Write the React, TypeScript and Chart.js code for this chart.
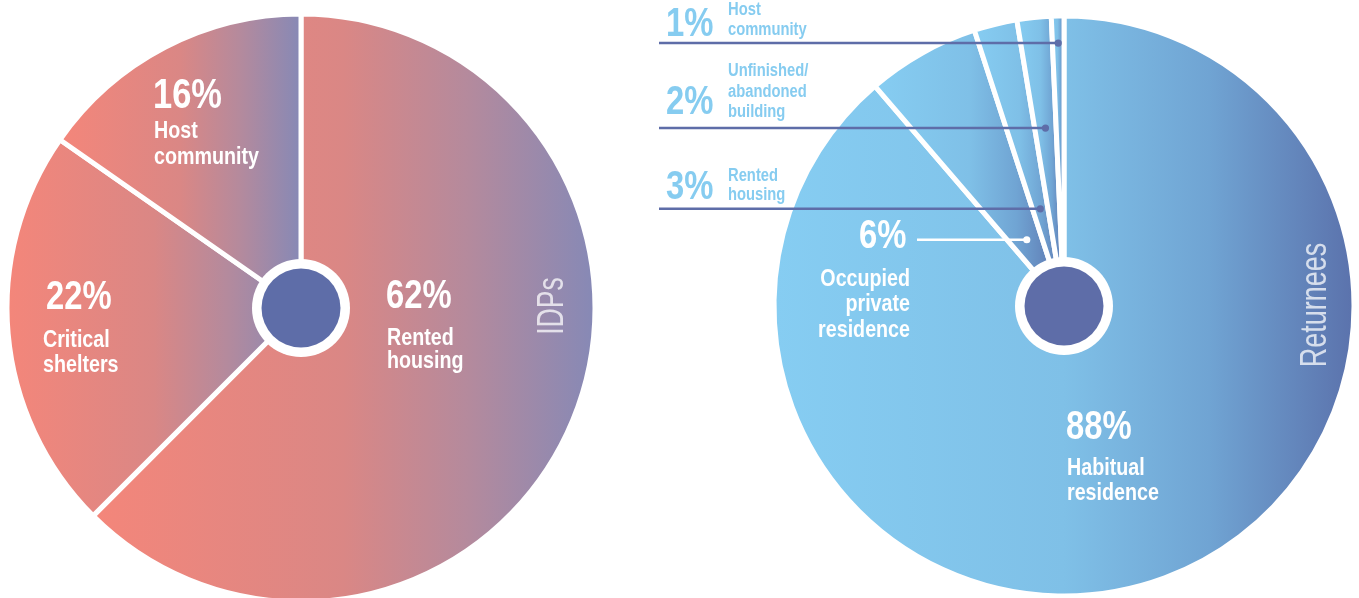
import { useEffect, useRef } from 'react';
import { Chart, registerables } from 'chart.js';

Chart.register(...registerables);

// ---------- data ----------
const idpCategories = ['Rented housing', 'Critical shelters', 'Host community'];
const idpValues = [62.5, 22.2, 15.3];
const idpPercentLabels = ['62%', '22%', '16%'];
const idpLabelLines = [['Rented', 'housing'], ['Critical', 'shelters'], ['Host', 'community']];

const returneeCategories = [
  'Habitual residence',
  'Occupied private residence',
  'Rented housing',
  'Unfinished/abandoned building',
  'Host community',
];
const returneeValues = [88.7, 6.3, 2.4, 1.9, 0.7];
const returneePercentLabels = ['88%', '6%', '3%', '2%', '1%'];
const returneeLabelLines = [
  ['Habitual', 'residence'],
  ['Occupied', 'private', 'residence'],
  ['Rented', 'housing'],
  ['Unfinished/', 'abandoned', 'building'],
  ['Host', 'community'],
];

const groupTitles = ['IDPs', 'Returnees'];

// ---------- styles ----------
const FONT = '"Liberation Sans", Arial, sans-serif';
const NARROW = 0.82;
const IDP_STOPS: [number, string][] = [
  [0, '#F4867A'],
  [0.5, '#DA8785'],
  [0.75, '#B48A9D'],
  [1, '#8689B6'],
];
const RET_STOPS: [number, string][] = [
  [0, '#86CDF2'],
  [0.5, '#7FC0E7'],
  [0.75, '#70A4D3'],
  [1, '#5B72AC'],
];
const DARK = '#5E6DA8';
const LIGHT_BLUE = '#86CCF0';

function sectorGradient(sctx: any, stops: [number, string][], R: number) {
  if (sctx.type !== 'data') return stops[0][1];
  const chart = sctx.chart;
  const area = chart.chartArea;
  if (!area) return stops[0][1];
  const cx = (area.left + area.right) / 2;
  const data = sctx.dataset.data as number[];
  const total = data.reduce((a, b) => a + b, 0);
  let before = 0;
  for (let i = 0; i < sctx.dataIndex; i++) before += data[i];
  const a0 = -Math.PI / 2 + (before / total) * 2 * Math.PI;
  const a1 = a0 + (data[sctx.dataIndex] / total) * 2 * Math.PI;
  let minX = cx;
  let maxX = cx;
  const consider = (a: number) => {
    const x = cx + R * Math.cos(a);
    minX = Math.min(minX, x);
    maxX = Math.max(maxX, x);
  };
  consider(a0);
  consider(a1);
  for (let k = -2; k <= 4; k++) {
    const a = k * Math.PI;
    if (a > a0 && a < a1) consider(a);
  }
  const g = chart.ctx.createLinearGradient(minX, 0, maxX, 0);
  stops.forEach(([p, col]) => g.addColorStop(p, col));
  return g;
}

type TextItem = {
  text: string;
  x: number;
  y: number;
  size: number;
  bold?: boolean;
  color: string;
  align?: CanvasTextAlign;
  rotate?: boolean;
  sx?: number;
};
type Leader = { index: number; rFrac: number; fromX: number; color: string };

function overlayPlugin(texts: TextItem[], leaders: Leader[], offsetX: number) {
  return {
    id: 'overlay',
    afterDatasetsDraw(chart: any) {
      const c: CanvasRenderingContext2D = chart.ctx;
      const meta = chart.getDatasetMeta(0);
      const first = meta.data[0] as any;
      const cx = first.x;
      const cy = first.y;
      const R = first.outerRadius;
      c.save();
      leaders.forEach((l) => {
        const arc = meta.data[l.index] as any;
        const mid = (arc.startAngle + arc.endAngle) / 2;
        const x = cx + R * l.rFrac * Math.cos(mid);
        const y = cy + R * l.rFrac * Math.sin(mid);
        c.strokeStyle = l.color;
        c.fillStyle = l.color;
        c.lineWidth = 2.5;
        c.beginPath();
        c.moveTo(l.fromX - offsetX, y);
        c.lineTo(x, y);
        c.stroke();
        c.beginPath();
        c.arc(x, y, 3.6, 0, Math.PI * 2);
        c.fill();
      });
      c.fillStyle = '#ffffff';
      c.beginPath();
      c.arc(cx, cy, 49, 0, Math.PI * 2);
      c.fill();
      c.fillStyle = DARK;
      c.beginPath();
      c.arc(cx, cy, 39.5, 0, Math.PI * 2);
      c.fill();
      texts.forEach((t) => {
        c.save();
        c.font = `${t.bold ? 'bold ' : ''}${t.size}px ${FONT}`;
        c.fillStyle = t.color;
        c.translate(t.x - offsetX, t.y);
        if (t.rotate) {
          c.rotate(-Math.PI / 2);
          c.scale(t.sx ?? NARROW, 1);
          c.textAlign = 'center';
          c.textBaseline = 'middle';
        } else {
          c.scale(t.sx ?? NARROW, 1);
          c.textAlign = t.align || 'left';
          c.textBaseline = 'alphabetic';
        }
        c.fillText(t.text, 0, 0);
        c.restore();
      });
      c.restore();
    },
  };
}

function linesAt(
  lines: string[],
  x: number,
  y0: number,
  step: number[],
  size: number,
  color: string,
  align: CanvasTextAlign = 'left'
): TextItem[] {
  return lines.map((s, i) => ({ text: s, x, y: y0 + (step[i] || 0), size, bold: true, color, align }));
}

const W = '#ffffff';
const TITLE = 'rgba(255,255,255,0.74)';

const idpTexts: TextItem[] = [
  { text: idpPercentLabels[2], x: 153, y: 108, size: 42, bold: true, color: W },
  ...linesAt(idpLabelLines[2], 154, 138, [0, 26], 24, W),
  { text: idpPercentLabels[1], x: 46, y: 309, size: 40, bold: true, color: W },
  ...linesAt(idpLabelLines[1], 43, 347, [0, 25], 24, W),
  { text: idpPercentLabels[0], x: 386, y: 308, size: 40, bold: true, color: W },
  ...linesAt(idpLabelLines[0], 387, 345, [0, 23], 24, W),
  { text: groupTitles[0], x: 553, y: 306, size: 36, color: TITLE, rotate: true, sx: 0.74 },
];

const retTexts: TextItem[] = [
  { text: returneePercentLabels[4], x: 666, y: 36, size: 40, bold: true, color: LIGHT_BLUE },
  ...linesAt(returneeLabelLines[4], 728, 15, [0, 20], 18, LIGHT_BLUE),
  { text: returneePercentLabels[3], x: 666, y: 114, size: 40, bold: true, color: LIGHT_BLUE },
  ...linesAt(returneeLabelLines[3], 728, 76, [0, 21, 41], 18, LIGHT_BLUE),
  { text: returneePercentLabels[2], x: 666, y: 199, size: 40, bold: true, color: LIGHT_BLUE },
  ...linesAt(returneeLabelLines[2], 728, 181, [0, 19], 18, LIGHT_BLUE),
  { text: returneePercentLabels[1], x: 859, y: 248, size: 40, bold: true, color: W },
  ...linesAt(returneeLabelLines[1], 910, 286, [0, 25, 51], 24, W, 'right'),
  { text: returneePercentLabels[0], x: 1066, y: 439, size: 40, bold: true, color: W },
  ...linesAt(returneeLabelLines[0], 1067, 475, [0, 25], 24, W),
  { text: groupTitles[1], x: 1316, y: 305, size: 36, color: TITLE, rotate: true, sx: 0.75 },
];

const retLeaders: Leader[] = [
  { index: 4, rFrac: 0.907, fromX: 659, color: DARK },
  { index: 3, rFrac: 0.617, fromX: 659, color: DARK },
  { index: 2, rFrac: 0.345, fromX: 659, color: DARK },
  { index: 1, rFrac: 0.262, fromX: 917, color: W },
];

const LEFT_R = 294;
const RIGHT_R = 290;
const RIGHT_OFFSET = 640;

export default function App() {
  const leftRef = useRef<HTMLCanvasElement>(null);
  const rightRef = useRef<HTMLCanvasElement>(null);

  useEffect(() => {
    const left = new Chart(leftRef.current!, {
      type: 'pie',
      data: {
        labels: idpCategories,
        datasets: [
          {
            data: idpValues,
            backgroundColor: (c: any) => sectorGradient(c, IDP_STOPS, LEFT_R),
            borderColor: '#ffffff',
            borderWidth: 5,
          },
        ],
      },
      options: {
        responsive: false,
        animation: false,
        events: [],
        radius: LEFT_R,
        layout: { padding: 0 },
        plugins: { legend: { display: false }, tooltip: { enabled: false } },
      } as any,
      plugins: [overlayPlugin(idpTexts, [], 0)],
    });

    const right = new Chart(rightRef.current!, {
      type: 'pie',
      data: {
        labels: returneeCategories,
        datasets: [
          {
            data: returneeValues,
            backgroundColor: (c: any) => sectorGradient(c, RET_STOPS, RIGHT_R),
            borderColor: '#ffffff',
            borderWidth: 5,
          },
        ],
      },
      options: {
        responsive: false,
        animation: false,
        events: [],
        radius: RIGHT_R,
        layout: { padding: { left: 129, right: 0, top: 0, bottom: 0 } },
        plugins: { legend: { display: false }, tooltip: { enabled: false } },
      } as any,
      plugins: [overlayPlugin(retTexts, retLeaders, RIGHT_OFFSET)],
    });

    return () => {
      left.destroy();
      right.destroy();
    };
  }, []);

  return (
    <div
      style={{
        position: 'absolute',
        left: 0,
        top: 0,
        width: 1359,
        height: 598,
        overflow: 'hidden',
        background: '#ffffff',
      }}
    >
      <canvas ref={leftRef} width={602} height={616} style={{ position: 'absolute', left: 0, top: 0 }} />
      <canvas
        ref={rightRef}
        width={719}
        height={612}
        style={{ position: 'absolute', left: RIGHT_OFFSET, top: 0 }}
      />
    </div>
  );
}
